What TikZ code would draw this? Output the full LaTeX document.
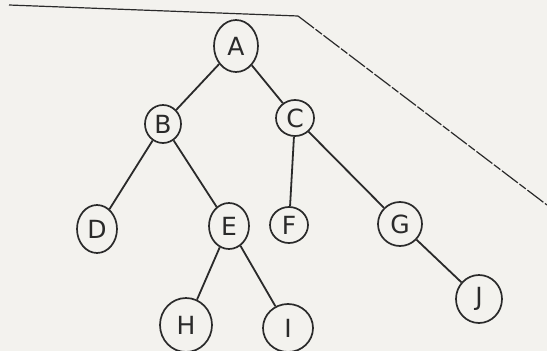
\documentclass[tikz,border=0pt]{standalone}
\usetikzlibrary{shapes.geometric}
\usepackage{fontspec}
\setmainfont{DejaVu Sans}
\definecolor{paper}{HTML}{F3F2EE}
\definecolor{ink}{HTML}{2A2A2A}
\tikzset{
  tnode/.style={draw=ink, line width=1.7pt, ellipse, inner sep=0pt, text=ink,
    font=\fontsize{25}{25}\selectfont},
  tedge/.style={draw=ink, line width=1.8pt},
  rule/.style={draw=ink, line width=1.2pt}
}
\begin{document}
\begin{tikzpicture}[x=1pt,y=-1pt]
\fill[paper] (0,0) rectangle (547,351);
\useasboundingbox (0,0) rectangle (547,351);
\node[tnode, minimum width=44pt, minimum height=52pt] (A) at (236,46) {A};
\node[tnode, minimum width=36pt, minimum height=38pt] (B) at (163,124) {B};
\node[tnode, minimum width=38pt, minimum height=36pt] (C) at (295,118) {C};
\node[tnode, minimum width=40pt, minimum height=48pt] (D) at (97,229) {D};
\node[tnode, minimum width=40pt, minimum height=46pt] (E) at (229,226) {E};
\node[tnode, minimum width=38pt, minimum height=36pt] (F) at (289,225) {F};
\node[tnode, minimum width=44pt, minimum height=44pt] (G) at (400,224) {G};
\node[tnode, minimum width=52pt, minimum height=54pt] (H) at (186,325) {H};
\node[tnode, minimum width=50pt, minimum height=48pt] (I) at (288,328) {I};
\node[tnode, minimum width=46pt, minimum height=48pt] (J) at (479,299) {J};
\coordinate (L1) at (9,5);
\coordinate (L2) at (298,16);
\coordinate (L3) at (547,205);
\draw[rule] (L1) -- (L2);
\draw[rule, dash pattern=on 20pt off 2pt on 8pt off 2pt] (L2) -- (L3);
\draw[tedge] (A) -- (B);
\draw[tedge] (A) -- (C);
\draw[tedge] (B) -- (D);
\draw[tedge] (B) -- (E);
\draw[tedge] (C) -- (F);
\draw[tedge] (C) -- (G);
\draw[tedge] (E) -- (H);
\draw[tedge] (E) -- (I);
\draw[tedge] (G) -- (J);
\end{tikzpicture}
\end{document}
